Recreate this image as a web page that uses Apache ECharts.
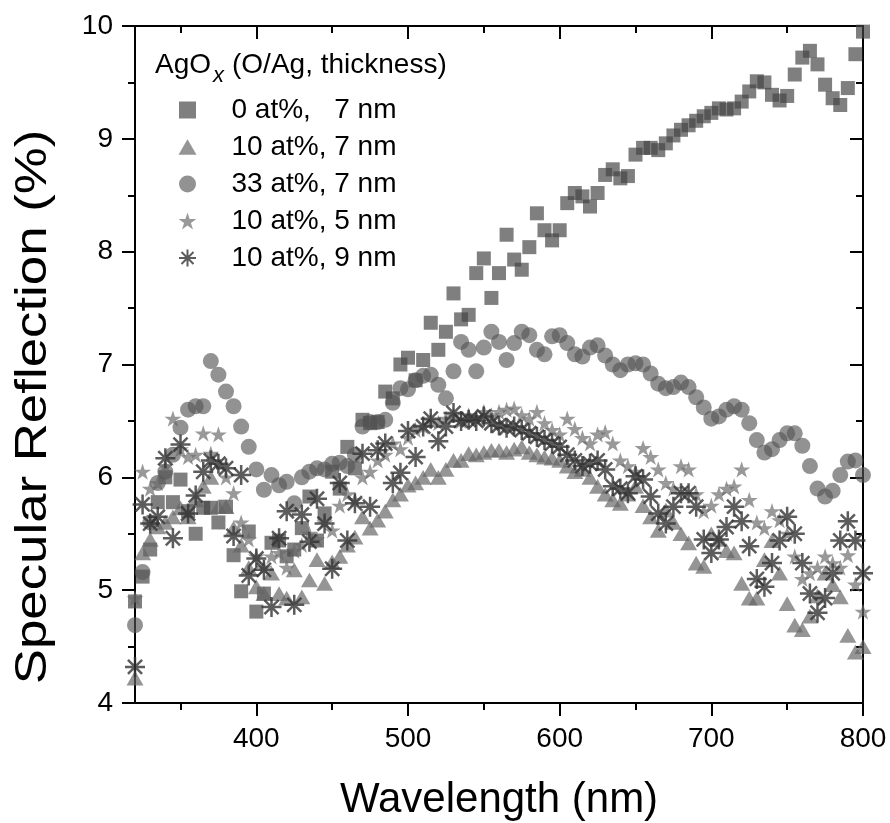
<!DOCTYPE html>
<html><head><meta charset="utf-8">
<script src="https://cdn.jsdelivr.net/npm/echarts@6/dist/echarts.min.js"></script>
<style>html,body{margin:0;padding:0;background:#fff}#c{width:890px;height:823px}</style>
</head><body><div id="c"></div>
<script>
// ---- data ----
const wavelength = [320,325,330,335,340,345,350,355,360,365,370,375,380,385,390,395,400,405,410,415,
420,425,430,435,440,445,450,455,460,465,470,475,480,485,490,495,500,505,510,515,
520,525,530,535,540,545,550,555,560,565,570,575,580,585,590,595,600,605,610,615,
620,625,630,635,640,645,650,655,660,665,670,675,680,685,690,695,700,705,710,715,
720,725,730,735,740,745,750,755,760,765,770,775,780,785,790,795,800];

const ag0_7nm = [4.90,5.12,5.36,5.78,6.00,5.78,5.98,5.70,5.50,5.73,
5.73,5.60,5.74,5.31,4.99,5.52,4.81,4.97,5.42,5.44,
5.30,5.36,5.55,5.83,5.44,5.68,6.05,5.90,6.27,6.08,
6.51,6.48,6.49,6.76,6.70,7.00,7.06,6.86,7.04,7.37,
7.13,7.29,7.63,7.40,7.44,7.81,7.94,7.59,7.81,8.15,
7.93,7.84,8.04,8.34,8.19,8.10,8.19,8.43,8.52,8.49,
8.40,8.52,8.68,8.73,8.65,8.67,8.86,8.92,8.92,8.90,
8.96,9.03,9.08,9.12,9.16,9.20,9.23,9.27,9.26,9.27,
9.33,9.42,9.51,9.50,9.39,9.34,9.38,9.57,9.72,9.78,
9.66,9.48,9.36,9.30,9.45,9.75,9.95];

const ag10_7nm = [4.22,5.33,5.45,5.56,5.60,5.65,5.73,5.65,5.80,5.92,
6.00,5.74,5.74,5.55,5.40,5.20,5.03,4.97,5.15,4.97,
4.93,5.18,4.94,5.09,5.27,5.06,5.25,5.30,5.40,5.47,
5.65,5.55,5.62,5.70,5.80,5.85,5.93,5.95,6.00,6.07,
6.00,6.07,6.15,6.15,6.21,6.20,6.22,6.24,6.24,6.22,
6.25,6.27,6.22,6.20,6.18,6.17,6.15,6.10,6.05,6.07,
6.00,5.92,5.85,5.80,5.77,5.85,5.92,5.75,5.65,5.53,
5.71,5.60,5.50,5.42,5.24,5.21,5.50,5.45,5.35,5.33,
5.06,4.93,4.93,5.27,5.44,5.15,4.88,4.69,4.65,4.77,
4.95,5.15,5.05,4.94,4.60,4.45,4.50];

const ag33_7nm = [4.69,5.16,5.60,5.95,6.05,6.20,6.44,6.60,6.63,6.63,
7.03,6.91,6.76,6.63,6.45,6.27,6.07,5.89,6.02,5.93,
5.96,5.77,6.00,6.05,6.08,6.07,6.12,6.13,6.10,6.20,
6.45,6.49,6.49,6.51,6.66,6.79,6.78,6.86,6.90,6.91,
6.82,6.70,6.94,7.20,7.13,6.94,7.15,7.29,7.20,7.04,
7.19,7.29,7.26,7.13,7.09,7.25,7.26,7.19,7.09,7.07,
7.15,7.17,7.08,7.00,6.95,7.00,7.01,7.00,6.92,6.83,
6.79,6.80,6.84,6.80,6.71,6.62,6.52,6.54,6.60,6.63,
6.60,6.48,6.33,6.22,6.25,6.33,6.39,6.39,6.28,6.10,
5.90,5.83,5.88,6.02,6.14,6.15,6.02];

const ag10_5nm = [4.93,6.05,5.90,5.95,6.10,6.52,6.25,6.18,6.20,6.39,
6.21,6.38,6.00,5.86,5.60,5.45,5.30,5.20,5.30,5.33,
5.20,5.35,5.40,5.50,5.45,5.60,5.53,5.75,5.85,5.80,
6.00,6.05,6.15,6.20,6.30,6.25,6.35,6.42,6.45,6.50,
6.48,6.52,6.55,6.50,6.55,6.52,6.58,6.55,6.58,6.60,
6.61,6.55,6.52,6.58,6.48,6.42,6.38,6.52,6.43,6.35,
6.30,6.38,6.40,6.30,6.15,6.10,6.05,6.26,6.18,6.07,
5.95,5.90,6.10,6.07,5.85,5.70,5.75,5.85,5.90,5.92,
6.07,5.80,5.60,5.55,5.70,5.62,5.50,5.30,5.10,5.15,
5.20,5.30,5.24,5.20,5.31,5.05,4.81];

const ag10_9nm = [4.32,5.76,5.59,5.65,6.17,5.46,6.29,5.68,5.84,6.05,
6.15,6.12,6.08,5.48,6.02,5.13,5.28,5.18,4.85,5.46,
5.70,4.87,5.67,5.43,5.81,5.59,5.19,5.95,5.44,5.77,
6.21,5.74,6.24,6.30,5.95,6.04,6.41,6.18,6.45,6.52,
6.32,6.45,6.57,6.50,6.51,6.50,6.54,6.48,6.46,6.44,
6.45,6.42,6.39,6.36,6.33,6.30,6.27,6.20,6.15,6.10,
6.12,6.15,6.07,5.92,5.90,5.86,6.01,5.98,5.83,5.68,
5.59,5.74,5.86,5.86,5.74,5.45,5.33,5.45,5.56,5.74,
5.61,5.39,5.10,5.03,5.24,5.44,5.65,5.50,5.24,4.97,
4.80,4.93,5.15,5.44,5.61,5.44,5.15];

const seriesNames = ['0 at%,   7 nm','10 at%, 7 nm','33 at%, 7 nm','10 at%, 5 nm','10 at%, 9 nm'];
const xMajorTicks = [400,500,600,700,800];
const xMinorTicks = [350,450,550,650,750];

// ---- chart ----
const FONT = '"Liberation Sans", Arial, Helvetica, sans-serif';
const chart = echarts.init(document.getElementById('c'), null, {renderer:'canvas'});
const pairs = v => wavelength.map((w,i)=>[w, v[i]]);

const lineSt = {color:'#000', width:2};
function xAxisDef(pos, ticks, len, inside, labels){
  return {type:'value', gridIndex:0, position:pos, min:320, max:800,
    splitLine:{show:false},
    axisLine:{show:true, onZero:false, lineStyle:lineSt},
    axisTick:{show:true, inside:inside, length:len, lineStyle:lineSt, customValues:ticks},
    axisLabel:labels ? {show:true, customValues:ticks, fontSize:28, fontFamily:FONT, color:'#000', margin:22}
                     : {show:false},
    minorTick:{show:false}};
}
function yAxisDef(pos, inside, labels){
  return {type:'value', gridIndex:0, position:pos, min:4, max:10, interval:1,
    splitLine:{show:false}, minorSplitLine:{show:false},
    axisLine:{show:true, onZero:false, lineStyle:lineSt},
    axisTick:{show:true, inside:inside, length:13, lineStyle:lineSt},
    minorTick:{show:true, splitNumber:2, length:7, lineStyle:lineSt},
    axisLabel:labels ? {show:true, fontSize:28, fontFamily:FONT, color:'#000', margin:22} : {show:false}};
}

const rectPath = 'path://M-5,-5L5,-5L5,5L-5,5Z';
const triPath = 'path://M0,-8.66L10,8.66L-10,8.66Z';
const starPath = 'path://M0,-10L2.245,-3.09L9.51,-3.09L3.633,1.18L5.88,8.09L0,3.82L-5.88,8.09L-3.633,1.18L-9.51,-3.09L-2.245,-3.09Z';
const asteriskPath = 'path://M0,-10L0,10M-10,0L10,0M-7.07,-7.07L7.07,7.07M-7.07,7.07L7.07,-7.07';

function sc(name, data, symbol, size, itemStyle){
  return {type:'scatter', name:name, data:pairs(data), xAxisIndex:0, yAxisIndex:0,
    symbol:symbol, symbolSize:size, symbolKeepAspect:true, itemStyle:itemStyle,
    emphasis:{disabled:true}, silent:true, animation:false};
}

const option = {
  animation:false,
  backgroundColor:'#fff',
  grid:{left:135, top:26, right:27, bottom:120, containLabel:false},
  xAxis:[
    xAxisDef('bottom', xMajorTicks, 13, false, true),
    xAxisDef('bottom', xMinorTicks, 7, false, false),
    xAxisDef('top', xMajorTicks, 13, true, false),
    xAxisDef('top', xMinorTicks, 7, true, false)
  ],
  yAxis:[ yAxisDef('left', false, true), yAxisDef('right', true, false) ],
  legend:{show:true, orient:'vertical', left:178, top:96, padding:0,
    itemWidth:18, itemHeight:17, itemGap:9, selectedMode:false, symbolKeepAspect:true,
    textStyle:{fontSize:28, lineHeight:28, fontFamily:FONT, color:'#000', padding:[0,0,0,30]},
    data:seriesNames},
  series:[
    sc(seriesNames[0], ag0_7nm, rectPath, 14, {color:'rgba(68,68,68,0.85)'}),
    sc(seriesNames[1], ag10_7nm, triPath, 17, {color:'rgba(100,100,100,0.85)'}),
    sc(seriesNames[2], ag33_7nm, 'circle', 16, {color:'rgba(85,85,85,0.8)'}),
    sc(seriesNames[3], ag10_5nm, starPath, 17, {color:'rgba(105,105,105,0.85)'}),
    sc(seriesNames[4], ag10_9nm, asteriskPath, 20, {color:'#333', borderColor:'#333', borderWidth:2.5})
  ],
  graphic:[
    {type:'text', x:34, y:407, rotation:Math.PI/2, scaleX:1.2, silent:true,
      style:{text:'Specular Reflection (%)', fontSize:44, fontFamily:FONT, fill:'#000', align:'center', verticalAlign:'middle'}},
    {type:'text', x:499, y:800, silent:true,
      style:{text:'Wavelength (nm)', fontSize:42, fontFamily:FONT, fill:'#000', align:'center', verticalAlign:'middle'}},
    {type:'text', x:155, y:65, silent:true,
      style:{text:'AgO', fontSize:28, fontFamily:FONT, fill:'#000', align:'left', verticalAlign:'middle'}},
    {type:'text', x:213, y:76, silent:true,
      style:{text:'x', fontSize:22, fontStyle:'italic', fontFamily:FONT, fill:'#000', align:'left', verticalAlign:'middle'}},
    {type:'text', x:232, y:65, silent:true,
      style:{text:'(O/Ag, thickness)', fontSize:28, fontFamily:FONT, fill:'#000', align:'left', verticalAlign:'middle'}}
  ]
};
chart.setOption(option);
</script>
</body></html>
